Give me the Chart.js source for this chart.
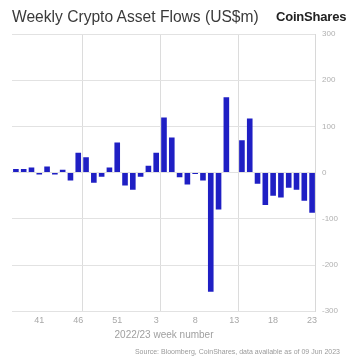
<!DOCTYPE html>
<html>
<head>
<meta charset="utf-8">
<script src="https://cdn.jsdelivr.net/npm/chart.js@4"></script>
<style>
    body { margin: 0; background: #fff; }
    #wrap { position: relative; width: 356px; height: 358px; overflow: hidden; }
    canvas { position: absolute; left: 0; top: 0; }
    .txt { position: absolute; white-space: nowrap; font-family: "Liberation Sans", Arial, sans-serif; }
    #title { left: 12px; top: 8px; font-size: 15.6px; color: #3a3a3a; }
    #brand { left: 276px; top: 9px; font-size: 13px; font-weight: bold; color: #222; letter-spacing: -0.2px; }
    #source { right: 16px; top: 348px; font-size: 7px; color: #9a9a9a; }
</style>
</head>
<body>
<div id="wrap">
    <canvas id="flows-chart" width="356" height="358"></canvas>
    <div class="txt" id="title">Weekly Crypto Asset Flows (US$m)</div>
    <div class="txt" id="brand">CoinShares</div>
    <div class="txt" id="source">Source: Bloomberg, CoinShares, data available as of 09 Jun 2023</div>
</div>
<script>
// 周数（2022年第38周 到 2023年第23周）
const weeks = [38, 39, 40, 41, 42, 43, 44, 45, 46, 47, 48, 49, 50, 51, 52, 53,
    1, 2, 3, 4, 5, 6, 7, 8, 9, 10, 11, 12, 13, 14, 15, 16, 17, 18, 19, 20, 21, 22, 23];

// 每周资金流（百万美元）
const flows = [8, 8, 11, -4, 13, -4, 6, -17, 43, 33, -22, -9, 11, 65, -28, -37,
    -9, 15, 43, 119, 76, -10, -26, -3, -17, -258, -80, 163, 0, 70, 117, -24,
    -70, -50, -54, -33, -37, -61, -87];

// y轴刻度
const yTicks = [-300, -200, -100, 0, 100, 200, 300];

const ctx = document.getElementById('flows-chart').getContext('2d');

new Chart(ctx, {
    type: 'bar',
    data: {
        labels: weeks.map(String),
        datasets: [{
            label: 'Flows',
            data: flows,
            backgroundColor: '#1f1fc4',
            borderWidth: 0,
            categoryPercentage: 1,
            barPercentage: 0.72
        }]
    },
    options: {
        responsive: false,
        animation: false,
        layout: {
            padding: { left: 12, top: 34, right: 12, bottom: 17 }
        },
        plugins: {
            legend: { display: false },
            tooltip: { enabled: false }
        },
        scales: {
            x: {
                grid: {
                    offset: true,
                    drawTicks: false,
                    // 每10周画一条竖线
                    color: (c) => (c.index % 10 === 9 && c.index < weeks.length) ? '#dcdcdc' : 'rgba(0,0,0,0)'
                },
                border: { display: false },
                ticks: {
                    autoSkip: false,
                    maxRotation: 0,
                    padding: 4,
                    color: '#a8a8a8',
                    font: { family: 'Liberation Sans', size: 9 },
                    callback: (v, i) => (i % 5 === 3 ? weeks[i] : '')
                },
                title: {
                    display: true,
                    text: '2022/23 week number',
                    color: '#a0a0a0',
                    font: { family: 'Liberation Sans', size: 10 },
                    padding: { top: -1, bottom: 0 }
                }
            },
            y: {
                position: 'right',
                min: yTicks[0],
                max: yTicks[yTicks.length - 1],
                afterBuildTicks: (axis) => { axis.ticks = yTicks.map(v => ({ value: v })); },
                grid: {
                    color: '#e2e2e2',
                    drawTicks: false
                },
                border: { display: true, color: '#d8d8d8' },
                ticks: {
                    padding: 6,
                    color: '#b0b0b0',
                    font: { family: 'Liberation Sans', size: 8 }
                }
            }
        }
    }
});
</script>
</body>
</html>
